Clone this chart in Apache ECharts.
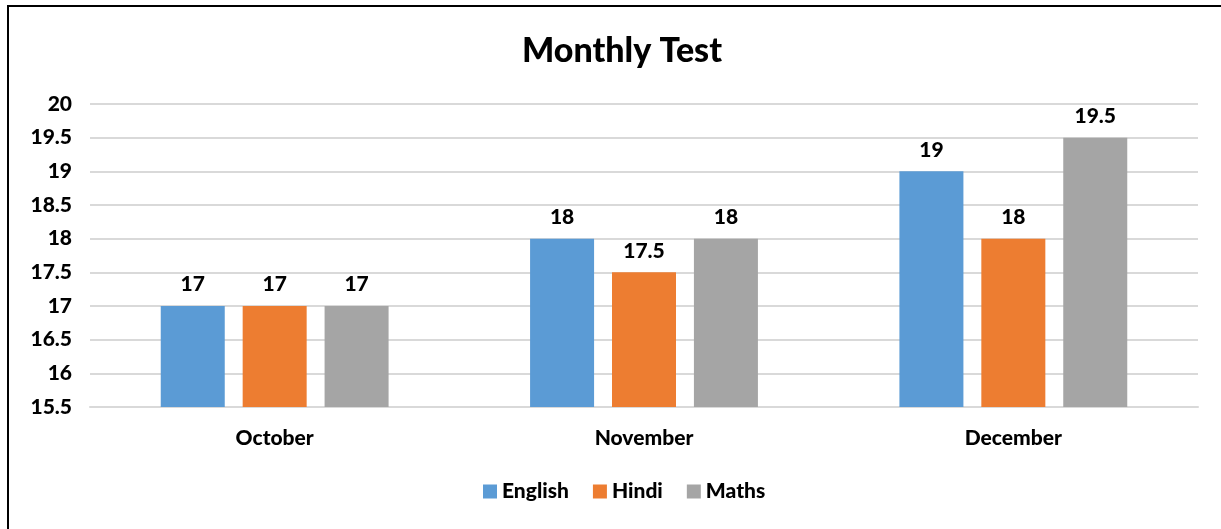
<!DOCTYPE html>
<html>
<head>
<meta charset="utf-8">
<script src="https://cdn.jsdelivr.net/npm/echarts@6/dist/echarts.min.js"></script>
<style>
  html, body { margin: 0; padding: 0; background: #fff; }
  #wrap { position: relative; width: 1221px; height: 529px; }
  #chart { width: 1221px; height: 529px; }
  #frame { position: absolute; left: 7px; top: 5px; width: 1230px; height: 540px;
           border-left: 2px solid #000; border-top: 2px solid #000; pointer-events: none; }
</style>
</head>
<body>
<div id="wrap">
  <div id="chart"></div>
  <div id="frame"></div>
</div>
<script>
var months = ['October', 'November', 'December'];
var english = [17, 18, 19];
var hindi = [17, 17.5, 18];
var maths = [17, 18, 19.5];

var font = 'Lato, "Open Sans", sans-serif';
var chart = echarts.init(document.getElementById('chart'));

function barSeries(name, data, color) {
  return {
    name: name,
    type: 'bar',
    data: data,
    barWidth: 64,
    barGap: '28%',
    itemStyle: { color: color },
    label: {
      show: true,
      position: 'top',
      distance: 11,
      color: '#000',
      fontFamily: font,
      fontWeight: 900,
      fontSize: 21
    }
  };
}

var option = {
  animation: false,
  title: {
    text: 'Monthly Test',
    left: 517,
    top: 29,
    textStyle: { fontFamily: font, fontWeight: 900, fontSize: 34, color: '#000' }
  },
  legend: {
    bottom: 22,
    left: 478,
    icon: 'rect',
    itemWidth: 14,
    itemHeight: 14,
    itemGap: 24,
    itemStyle: { borderWidth: 0 },
    textStyle: { fontFamily: font, fontWeight: 900, fontSize: 21, color: '#000' }
  },
  grid: { left: 90, right: 23, top: 104, bottom: 122 },
  xAxis: {
    type: 'category',
    data: months,
    axisLine: { lineStyle: { color: '#d9d9d9', width: 2 } },
    axisTick: { show: false },
    axisLabel: { margin: 21, fontFamily: font, fontWeight: 900, fontSize: 21, color: '#000' }
  },
  yAxis: {
    type: 'value',
    min: 15.5,
    max: 20,
    interval: 0.5,
    axisLine: { show: false },
    axisTick: { show: false },
    splitLine: { lineStyle: { color: '#d9d9d9', width: 2 } },
    axisLabel: { margin: 18, fontFamily: font, fontWeight: 900, fontSize: 21, color: '#000' }
  },
  series: [
    barSeries('English', english, '#5b9bd5'),
    barSeries('Hindi', hindi, '#ed7d31'),
    barSeries('Maths', maths, '#a5a5a5')
  ]
};

chart.setOption(option);
</script>
</body>
</html>
